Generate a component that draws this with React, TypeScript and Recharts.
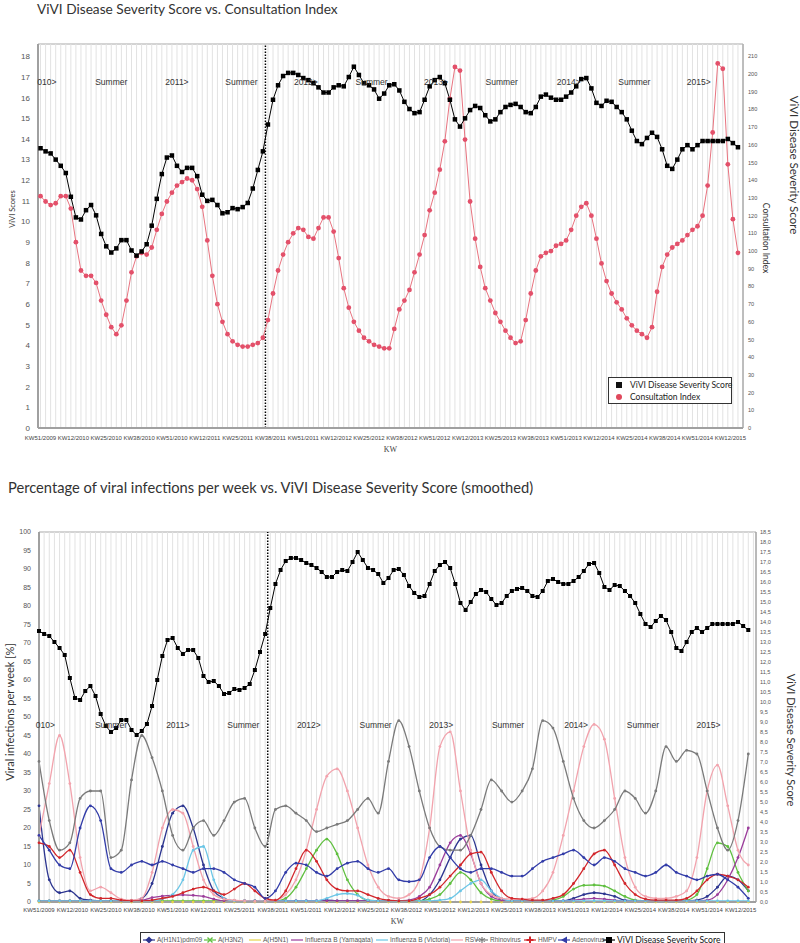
import React from 'react';
import { LineChart, Line, XAxis, YAxis, ReferenceLine, ReferenceDot, ReferenceArea, Legend } from 'recharts';

// x is a week index: 0 = KW51/2009
const weekTicks = [0, 13, 26, 39, 52, 65, 78, 91, 104, 117, 130, 143, 156, 169, 182, 195, 208, 221, 234, 247, 260, 273];
const weekTickLabels = [
  'KW51/2009', 'KW12/2010', 'KW25/2010', 'KW38/2010', 'KW51/2010', 'KW12/2011', 'KW25/2011', 'KW38/2011',
  'KW51/2011', 'KW12/2012', 'KW25/2012', 'KW38/2012', 'KW51/2012', 'KW12/2013', 'KW25/2013', 'KW38/2013',
  'KW51/2013', 'KW12/2014', 'KW25/2014', 'KW38/2014', 'KW51/2014', 'KW12/2015',
];
const seasonWeeks = [2.5, 28, 54, 79.5, 105, 131, 156.5, 182.5, 209, 235, 260.5];
const seasonLabels = ['010>', 'Summer', '2011>', 'Summer', '2012>', 'Summer', '2013>', 'Summer', '2014>', 'Summer', '2015>'];
const dividerWeek = 89;

// ViVI Disease Severity Score, one value every 2 weeks
const severityScore = [
  13.55, 13.4, 13.3, 13.0, 12.7, 12.35, 11.2, 10.2, 10.1, 10.55,
  10.8, 10.3, 9.4, 8.8, 8.5, 8.7, 9.1, 9.1, 8.6, 8.35,
  8.55, 8.9, 9.8, 11.1, 12.3, 13.1, 13.2, 12.7, 12.4, 12.6,
  12.6, 12.2, 11.3, 11.0, 11.05, 10.8, 10.4, 10.45, 10.65, 10.6,
  10.7, 10.9, 11.6, 12.5, 13.4, 14.7, 15.9, 16.6, 17.05, 17.2,
  17.2, 17.1, 16.95, 16.85, 16.7, 16.5, 16.25, 16.25, 16.5, 16.6,
  16.55, 17.0, 17.5, 17.1, 16.7, 16.6, 16.4, 15.95, 16.2, 16.6,
  16.65, 16.35, 15.8, 15.45, 15.25, 15.3, 15.9, 16.55, 16.85, 17.0,
  16.7, 15.9, 14.95, 14.6, 15.0, 15.4, 15.6, 15.5, 15.15, 14.85,
  14.95, 15.3, 15.55, 15.65, 15.7, 15.55, 15.3, 15.25, 15.55, 16.05,
  16.15, 16.0, 15.9, 15.9, 16.05, 16.25, 16.55, 16.9, 16.95, 16.45,
  15.75, 15.6, 15.85, 15.8, 15.55, 15.3, 14.95, 14.4, 13.9, 13.75,
  14.05, 14.3, 14.1, 13.5, 12.7, 12.55, 13.0, 13.5, 13.7, 13.5,
  13.7, 13.9, 13.9, 13.9, 13.9, 13.9, 14.0, 13.8, 13.6,
];

// Consultation index, one value every 2 weeks
const consultationIndex = [
  131, 128, 126, 127, 131, 131, 124, 105, 89, 86,
  86, 82, 72, 64, 57, 53, 58, 72, 88, 97,
  99, 98, 102, 112, 121, 128, 133, 137, 139, 141,
  140, 135, 125, 106, 86, 70, 60, 53, 49, 47,
  46, 46, 47, 48, 51, 61, 76, 89, 98, 105,
  110, 113, 112, 108, 107, 113, 119, 119, 111, 96,
  79, 68, 60, 55, 51, 49, 47, 46, 45, 45,
  56, 67, 72, 78, 88, 98, 109, 123, 133, 146,
  162, 186, 204, 202, 163, 128, 107, 91, 79, 72,
  65, 60, 55, 51, 48, 49, 61, 76, 89, 97,
  99, 100, 103, 104, 106, 112, 120, 125, 127, 120,
  107, 93, 83, 76, 71, 67, 62, 58, 55, 53,
  51, 57, 77, 91, 98, 102, 104, 106, 109, 112,
  114, 120, 137, 167, 206, 203, 149, 118, 99,
];

// viral infections per week (%), one value every 4 weeks
const h1n1 = [
  26, 6, 2.5, 3, 1, 0.5, 0.3, 0.3, 0.3, 0.3,
  1, 5, 15, 24, 26, 20, 10, 3, 1, 0.3,
  0.3, 0.3, 0.3, 0.3, 0.3, 0.3, 0.3, 0.3, 0.5, 0.3,
  0.3, 0.3, 0.3, 0.3, 0.3, 0.3, 0.3, 0.3, 2, 6,
  12, 17, 18, 10, 3, 0.8, 0.3, 0.3, 0.3, 0.3,
  0.3, 0.3, 1, 2, 2.5, 2.2, 1.5, 0.5, 0.3, 0.3,
  0.3, 0.3, 0.3, 0.3, 0.5, 1.5, 4, 7, 6, 3,
];
const h3n2 = [
  0.3, 0.3, 0.3, 0.3, 0.3, 0.3, 0.3, 0.3, 0.3, 0.3,
  0.3, 0.3, 0.3, 0.3, 0.3, 0.3, 0.3, 0.3, 0.3, 0.3,
  0.3, 0.3, 0.3, 0.3, 1, 4, 9, 14, 17, 13,
  6, 2, 0.5, 0.3, 0.3, 0.3, 0.3, 0.3, 0.8, 2,
  5, 8, 6, 2.5, 0.8, 0.3, 0.3, 0.3, 0.3, 0.3,
  0.5, 1.5, 3.5, 4.5, 4.6, 4.3, 3, 1.5, 0.5, 0.3,
  0.3, 0.3, 0.3, 0.5, 2, 9, 16, 15, 8, 3,
];
const h5n1 = [
  0, 0, 0, 0, 0, 0, 0, 0, 0, 0,
  0, 0, 0, 0, 0, 0, 0, 0, 0, 0,
  0, 0, 0, 0, 0, 0, 0, 0, 0, 0,
  0, 0, 0, 0, 0, 0, 0, 0, 0, 0,
  0, 0, 0, 0, 0, 0, 0, 0, 0, 0,
  0, 0, 0, 0, 0, 0, 0, 0, 0, 0,
  0, 0, 0, 0, 0, 0, 0, 0, 0, 0,
];
const yamagata = [
  0.3, 0.3, 0.3, 0.3, 0.3, 0.3, 0.3, 0.3, 0.3, 0.3,
  0.5, 1.2, 1.6, 1.8, 1.9, 1.8, 1.5, 0.8, 0.3, 0.3,
  0.3, 0.3, 0.3, 0.3, 0.3, 0.3, 0.3, 0.3, 0.3, 0.3,
  0.3, 0.3, 0.3, 0.3, 0.3, 0.3, 0.5, 1.5, 4, 10,
  16, 18, 13, 5, 1.5, 0.5, 0.3, 0.3, 0.3, 0.3,
  0.3, 0.3, 0.5, 0.8, 1, 0.8, 0.5, 0.3, 0.3, 0.3,
  0.3, 0.3, 0.3, 0.3, 0.3, 0.5, 2, 6, 12, 20,
];
const victoria = [
  0.3, 0.3, 0.3, 0.3, 0.3, 0.3, 0.3, 0.3, 0.3, 0.3,
  0.3, 0.3, 0.8, 2, 6, 14, 15, 6, 1, 0.3,
  0.3, 0.3, 0.3, 0.3, 0.3, 0.3, 0.3, 0.3, 1, 2,
  2.3, 1.8, 0.5, 0.3, 0.3, 0.3, 0.3, 0.3, 0.3, 0.5,
  1, 3, 5, 6, 3, 1, 0.3, 0.3, 0.3, 0.3,
  0.3, 0.3, 0.3, 0.3, 0.3, 0.3, 0.3, 0.3, 0.3, 0.3,
  0.3, 0.3, 0.3, 0.3, 0.3, 0.3, 0.3, 0.3, 0.3, 0.3,
];
const rsv = [
  18, 32, 45, 32, 12, 3, 4, 2.5, 0.8, 0.5,
  1, 8, 20, 25, 24, 15, 6, 2, 0.8, 0.5,
  0.3, 0.2, 0.2, 0.5, 2, 6, 14, 25, 34, 36,
  30, 20, 10, 4, 1.5, 1, 2, 6, 20, 42,
  46, 30, 14, 5, 2, 1, 0.8, 0.8, 1, 3,
  8, 18, 30, 42, 48, 44, 28, 12, 4, 1.5,
  1, 1, 1.5, 3, 12, 30, 37, 26, 14, 10,
];
const rhinovirus = [
  38, 22, 14, 16, 28, 30, 30, 12, 14, 33,
  45, 39, 30, 18, 14, 20, 22, 18, 22, 27,
  28, 20, 15, 25, 26, 24, 22, 19, 20, 21,
  22, 25, 28, 24, 38, 49, 42, 30, 20, 15,
  14, 14, 18, 25, 33, 30, 27, 30, 36, 49,
  47, 38, 28, 22, 20, 22, 25, 30, 28, 24,
  30, 42, 38, 41, 40, 30, 20, 14, 22, 40,
];
const hmpv = [
  16, 15, 12, 14, 8, 2, 1, 1, 0.5, 0.3,
  0.3, 0.5, 1, 1.5, 2.5, 3.5, 4, 3, 2, 3.5,
  5, 3, 1, 0.5, 3, 9, 14, 11, 6, 3.5,
  3, 3, 2, 1, 0.5, 0.3, 0.3, 1, 2, 4,
  7, 10, 13, 13.5, 8, 3, 1, 0.8, 0.5, 0.5,
  1, 2, 5, 9, 13, 14, 10, 5, 2, 0.8,
  0.5, 0.5, 0.5, 1, 3, 6, 7.5, 7, 6, 4,
];
const adenovirus = [
  18, 14, 10, 9, 20, 26, 22, 9, 8, 10,
  11, 10, 11, 10, 9, 8, 9, 9, 8, 6,
  5, 4, 1, 3, 8, 10.5, 10, 8, 7, 9,
  10.5, 11, 9, 8, 9, 6, 5.5, 6, 12, 15,
  12, 9, 8, 9, 9, 8, 7, 7, 9, 11,
  12, 13, 14, 12, 10, 12, 11, 9, 8, 7,
  8, 10, 8, 7, 6, 7, 7.5, 6, 4, 1,
];

const virusSeries = [
  { key: 'h1n1', name: 'A(H1N1)pdm09', color: '#2c3590', marker: 'diamond', values: h1n1 },
  { key: 'h3n2', name: 'A(H3N2)', color: '#5fbf3f', marker: 'cross', values: h3n2 },
  { key: 'h5n1', name: 'A(H5N1)', color: '#e6d44a', marker: 'dash', values: h5n1 },
  { key: 'yamagata', name: 'Influenza B (Yamagata)', color: '#9b3d9b', marker: 'dash', values: yamagata },
  { key: 'victoria', name: 'Influenza B (Victoria)', color: '#6cc6e6', marker: 'dash', values: victoria },
  { key: 'rsv', name: 'RSV', color: '#f2a3ad', marker: 'dash', values: rsv },
  { key: 'rhinovirus', name: 'Rhinovirus', color: '#7a7a7a', marker: 'star', values: rhinovirus },
  { key: 'hmpv', name: 'HMPV', color: '#d2262b', marker: 'plus', values: hmpv },
  { key: 'adenovirus', name: 'Adenovirus', color: '#323ca8', marker: 'triangle', values: adenovirus },
];
// left edge of each entry inside the lower legend box, keyed by series
const bottomLegendLeft: Record<string, number> = {
  h1n1: 2, h3n2: 63, h5n1: 108, yamagata: 150, victoria: 235, rsv: 310,
  rhinovirus: 335, hmpv: 383, adenovirus: 417, severity: 462,
};

const topRows = severityScore.map((s, k) => ({ w: k * 2, severity: s, consultation: consultationIndex[k] }));
const bottomRows = severityScore.map((s, k) => {
  const row: Record<string, number> = { w: k * 2, severity: s };
  if (k % 2 === 0) virusSeries.forEach((v) => { row[v.key] = v.values[k / 2]; });
  return row;
});

const gridWeeks = Array.from({ length: 140 }, (_, i) => i * 2);
const topLeftTicks = Array.from({ length: 19 }, (_, i) => i);
const topRightTicks = Array.from({ length: 22 }, (_, i) => i * 10);
const bottomLeftTicks = Array.from({ length: 21 }, (_, i) => i * 5);
const bottomRightTicks = Array.from({ length: 38 }, (_, i) => i * 0.5);

const tickFont = { fontSize: 6, fill: '#444', fontFamily: 'Liberation Sans, Arial' };
const weekLabel = (w: number) => weekTickLabels[weekTicks.indexOf(w)] ?? '';

const squareDot = (size: number) => (props: any) => {
  const { cx, cy, index } = props;
  if (cx == null || cy == null) return <g key={`s${index}`} />;
  return <rect key={`s${index}`} x={cx - size / 2} y={cy - size / 2} width={size} height={size} fill="#000" />;
};

function Marker({ type, color }: { type: string; color: string }) {
  switch (type) {
    case 'square':
      return <rect x={3} y={2} width={6} height={6} fill={color} />;
    case 'circle':
      return <circle cx={6} cy={5} r={3} fill={color} />;
    case 'diamond':
      return <polygon points="6,1.5 9.5,5 6,8.5 2.5,5" fill={color} />;
    case 'triangle':
      return <polygon points="3,5 9,1.5 9,8.5" fill={color} />;
    case 'plus':
      return <path d="M6 1.5V8.5M2.5 5H9.5" stroke={color} strokeWidth={2} />;
    case 'cross':
      return <path d="M3.5 2.5L8.5 7.5M8.5 2.5L3.5 7.5" stroke={color} strokeWidth={1.4} />;
    case 'star':
      return <path d="M6 2V8M3 3.5L9 6.5M9 3.5L3 6.5" stroke={color} strokeWidth={1.2} />;
    default:
      return null;
  }
}

const TopLegend = (props: any) => {
  const items = [...(props.payload || [])].sort((a: any) => (a.dataKey === 'severity' ? -1 : 1));
  return (
    <div style={{ width: 124, height: 27, boxSizing: 'border-box', border: '1px solid #333', background: '#fff', position: 'relative', fontFamily: 'Lato', fontSize: 8.5, color: '#222' }}>
      {items.map((it: any, i: number) => (
        <div key={i} style={{ position: 'absolute', left: 4, top: 2 + i * 11.5, height: 10, display: 'flex', alignItems: 'center', whiteSpace: 'nowrap' }}>
          <svg width={12} height={10}>
            <Marker type={it.dataKey === 'severity' ? 'square' : 'circle'} color={it.dataKey === 'severity' ? '#111' : '#e0485c'} />
          </svg>
          <span style={{ marginLeft: 5 }}>{it.value}</span>
        </div>
      ))}
    </div>
  );
};

const BottomLegend = (props: any) => {
  const items = props.payload || [];
  return (
    <div style={{ width: 585, height: 14, boxSizing: 'border-box', border: '1px solid #333', borderBottom: 'none', background: '#fff', position: 'relative', fontFamily: 'Liberation Sans, Arial', fontSize: 6.5, color: '#555' }}>
      {items.map((it: any) => {
        const v = virusSeries.find((s) => s.key === it.dataKey);
        const isScore = !v;
        return (
          <div key={it.dataKey} style={{ position: 'absolute', left: bottomLegendLeft[it.dataKey], top: 1, height: 11, display: 'flex', alignItems: 'center', whiteSpace: 'nowrap', fontFamily: isScore ? 'Lato' : undefined, fontSize: isScore ? 8.6 : undefined, color: isScore ? '#111' : undefined }}>
            <svg width={12} height={10}>
              <line x1={0} y1={5} x2={12} y2={5} stroke={isScore ? '#000' : v!.color} strokeWidth={1.2} />
              <Marker type={isScore ? 'square' : v!.marker} color={isScore ? '#000' : v!.color} />
            </svg>
            <span style={{ marginLeft: 2 }}>{it.value}</span>
          </div>
        );
      })}
    </div>
  );
};

const rotated = (text: string, cx: number, cy: number, deg: number, size: number) => (
  <div style={{ position: 'absolute', left: cx, top: cy, transform: `translate(-50%, -50%) rotate(${deg}deg)`, whiteSpace: 'nowrap', fontFamily: 'Lato', fontSize: size, color: '#333' }}>
    {text}
  </div>
);

export default function App() {
  return (
    <div style={{ position: 'absolute', left: 0, top: 0, width: 800, height: 943, background: '#fff', overflow: 'hidden' }}>
      <div style={{ position: 'absolute', left: 37, top: 0, fontFamily: 'Lato', fontSize: 13.7, color: '#333', whiteSpace: 'nowrap' }}>
        ViVI Disease Severity Score vs. Consultation Index
      </div>
      <div style={{ position: 'absolute', left: 0, top: 0 }}>
        <LineChart width={800} height={460} data={topRows} margin={{ top: 44, right: 0, bottom: 2, left: 0 }}>
          {gridWeeks.map((w) => (
            <ReferenceLine key={w} x={w} yAxisId="l" stroke="#e2e2e2" strokeWidth={1} />
          ))}
          <ReferenceArea x1={-1} x2={278} y1={0} y2={18.6} yAxisId="l" fill="none" stroke="#a8a8a8" strokeWidth={1} />
          <XAxis type="number" dataKey="w" domain={[-1, 278]} ticks={weekTicks} interval={0} tickFormatter={weekLabel}
            tickLine={false} axisLine={{ stroke: '#a0a0a0', strokeWidth: 2 }} tick={tickFont} height={30}
            label={{ value: 'KW', position: 'insideBottom', offset: 6, fontSize: 8, fill: '#444' }} />
          <YAxis yAxisId="l" domain={[0, 18.6]} ticks={topLeftTicks} interval={0} width={38} tickLine={false}
            axisLine={{ stroke: '#a0a0a0', strokeWidth: 2 }} tick={{ ...tickFont, fontSize: 8, fill: '#555' }} />
          <YAxis yAxisId="r" orientation="right" domain={[0, 217]} ticks={topRightTicks} interval={0} width={57} tickLine={false}
            tickSize={3} axisLine={{ stroke: '#a0a0a0', strokeWidth: 1 }} tick={{ ...tickFont, fontSize: 5.6, fill: '#555' }} />
          {seasonWeeks.map((w, i) => (
            <ReferenceDot key={`t${i}`} x={w} y={16.75} yAxisId="l" r={1} fill="none" stroke="none"
              label={{ value: seasonLabels[i], position: 'center', fontSize: 8.5, fill: '#333', fontFamily: 'Liberation Sans, Arial' }} />
          ))}
          <ReferenceLine x={dividerWeek} yAxisId="l" stroke="#000" strokeWidth={1.5} strokeDasharray="1.5 1.5" />
          <Line yAxisId="r" dataKey="consultation" name="Consultation Index" type="linear" stroke="#e8737f" strokeWidth={1}
            dot={{ r: 2.4, fill: '#e3506a', stroke: 'none' }} isAnimationActive={false} />
          <Line yAxisId="l" dataKey="severity" name="ViVI Disease Severity Score" type="linear" stroke="#000" strokeWidth={1}
            dot={squareDot(4.5)} isAnimationActive={false} />
          <Legend layout="vertical" align="center" verticalAlign="middle" width={124} height={27}
            wrapperStyle={{ left: 608, top: 377, width: 124, height: 27 }} content={TopLegend} />
        </LineChart>
      </div>
      {rotated('ViVI Scores', 12, 209, -90, 7.5)}
      {rotated('Consultation Index', 766, 238, 90, 8.5)}
      {rotated('ViVI Disease Severity Score', 794, 165, 90, 11.5)}

      <div style={{ position: 'absolute', left: 8, top: 478, fontFamily: 'Lato', fontSize: 14.7, color: '#333', whiteSpace: 'nowrap' }}>
        Percentage of viral infections per week vs. ViVI Disease Severity Score (smoothed)
      </div>
      <div style={{ position: 'absolute', left: 0, top: 500 }}>
        <LineChart width={800} height={443} data={bottomRows} margin={{ top: 32, right: 0, bottom: 17, left: 0 }}>
          {gridWeeks.map((w) => (
            <ReferenceLine key={w} x={w} yAxisId="l" stroke="#e2e2e2" strokeWidth={1} />
          ))}
          <ReferenceArea x1={0} x2={279} y1={0} y2={100} yAxisId="l" fill="none" stroke="#a8a8a8" strokeWidth={1} />
          <XAxis type="number" dataKey="w" domain={[0, 279]} ticks={weekTicks} interval={0} tickFormatter={weekLabel}
            tickLine={false} tickSize={4} axisLine={{ stroke: '#a0a0a0', strokeWidth: 2 }} tick={tickFont} height={24}
            label={{ value: 'KW', position: 'insideBottom', offset: 2, fontSize: 8, fill: '#444' }} />
          <YAxis yAxisId="l" domain={[0, 100]} ticks={bottomLeftTicks} interval={0} width={39} tickLine={false}
            axisLine={{ stroke: '#a0a0a0', strokeWidth: 2 }} tick={{ ...tickFont, fontSize: 7, fill: '#555' }} />
          <YAxis yAxisId="r" orientation="right" domain={[0, 18.5]} ticks={bottomRightTicks} interval={0} width={44} tickLine={false}
            tickSize={2} axisLine={{ stroke: '#a0a0a0', strokeWidth: 1 }} tickFormatter={(v: number) => v.toFixed(1).replace('.', ',')}
            tick={{ ...tickFont, fontSize: 5.6, fill: '#555' }} />
          {seasonWeeks.map((w, i) => (
            <ReferenceDot key={`b${i}`} x={w} y={47.8} yAxisId="l" r={1} fill="none" stroke="none"
              label={{ value: seasonLabels[i], position: 'center', fontSize: 8.5, fill: '#333', fontFamily: 'Liberation Sans, Arial' }} />
          ))}
          <ReferenceLine x={dividerWeek} yAxisId="l" stroke="#000" strokeWidth={1.5} strokeDasharray="1.5 1.5" />
          {virusSeries.map((v) => (
            <Line key={v.key} yAxisId="l" dataKey={v.key} name={v.name} type="monotone" stroke={v.color} strokeWidth={1.3}
              connectNulls dot={{ r: 1.4, fill: v.color, stroke: 'none' }} isAnimationActive={false} />
          ))}
          <Line yAxisId="r" dataKey="severity" name="ViVI Disease Severity Score" type="linear" stroke="#000" strokeWidth={1}
            dot={squareDot(4)} isAnimationActive={false} />
          <Legend layout="vertical" align="center" verticalAlign="middle" width={585} height={14}
            wrapperStyle={{ left: 140, top: 432, width: 585, height: 14 }} content={BottomLegend} />
        </LineChart>
      </div>
      {rotated('Viral infections per week [%]', 9, 712, -90, 11)}
      {rotated('ViVI Disease Severity Score', 791, 740, 90, 11)}
    </div>
  );
}
